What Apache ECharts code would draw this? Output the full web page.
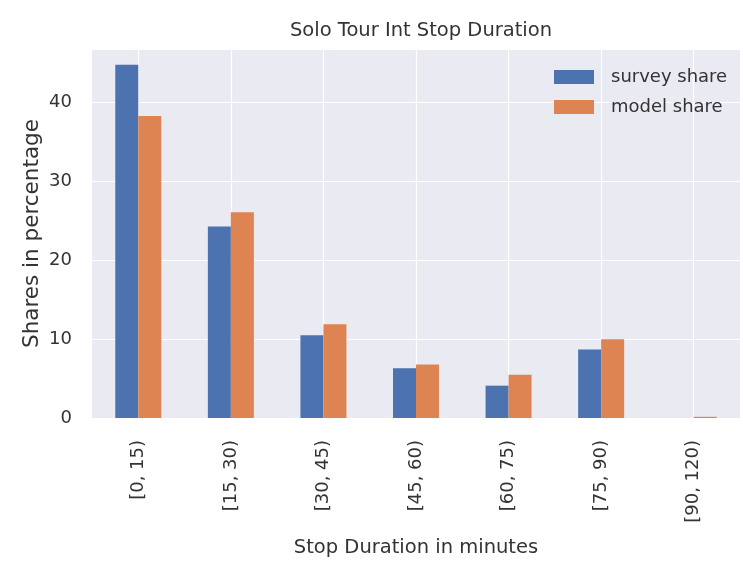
<!DOCTYPE html>
<html>
<head>
<meta charset="utf-8">
<script src="https://cdn.jsdelivr.net/npm/echarts@6/dist/echarts.min.js"></script>
<style>
html,body{margin:0;padding:0;background:#fff;}
#chart{width:743px;height:563px;}
</style>
</head>
<body>
<div id="chart"></div>
<script>
const categories = ['[0, 15)', '[15, 30)', '[30, 45)', '[45, 60)', '[60, 75)', '[75, 90)', '[90, 120)'];
const surveyShare = [44.8, 24.3, 10.5, 6.3, 4.1, 8.7, 0];
const modelShare = [38.3, 26.1, 11.9, 6.8, 5.5, 10.0, 0.15];
const yMax = 46.8;
const yTickStep = 10;

const FONT = '"DejaVu Sans", "Liberation Sans", Arial, sans-serif';
const TXT = '#333333';

const chart = echarts.init(document.getElementById('chart'), null, {renderer: 'canvas'});
chart.setOption({
  animation: false,
  backgroundColor: '#ffffff',
  title: {
    text: 'Solo Tour Int Stop Duration',
    left: 416,
    top: 16,
    textAlign: 'center',
    textStyle: {fontFamily: FONT, fontSize: 19.5, fontWeight: 'normal', color: TXT}
  },
  legend: {
    orient: 'vertical',
    left: 549,
    top: 63,
    itemWidth: 40,
    itemHeight: 14,
    itemGap: 12,
    icon: 'rect',
    textStyle: {fontFamily: FONT, fontSize: 18, color: TXT, padding: [0, 0, 0, 12]},
    data: ['survey share', 'model share']
  },
  grid: {
    left: 92, right: 3, top: 49, bottom: 145,
    show: true, backgroundColor: '#EAEAF2', borderWidth: 0,
    containLabel: false
  },
  xAxis: {
    type: 'category',
    data: categories,
    boundaryGap: true,
    name: 'Stop Duration in minutes',
    nameLocation: 'middle',
    nameGap: 120,
    nameMoveOverlap: false,
    nameTextStyle: {fontFamily: FONT, fontSize: 19.5, color: TXT, verticalAlign: 'top'},
    axisLine: {show: false},
    axisTick: {show: false, alignWithLabel: true},
    axisLabel: {rotate: 90, margin: 22, fontFamily: FONT, fontSize: 18, color: TXT, interval: 0},
    splitLine: {show: true, alignWithLabel: true, lineStyle: {color: '#ffffff', width: 1.2}}
  },
  yAxis: {
    type: 'value',
    min: 0,
    max: yMax,
    interval: yTickStep,
    name: 'Shares in percentage',
    nameLocation: 'middle',
    nameRotate: 90,
    nameGap: 49,
    nameMoveOverlap: false,
    nameTextStyle: {fontFamily: FONT, fontSize: 21.5, color: TXT},
    axisLine: {show: false},
    axisTick: {show: false},
    axisLabel: {
      margin: 20, fontFamily: FONT, fontSize: 18, color: TXT, showMaxLabel: false,
      formatter: v => (v % yTickStep === 0 ? String(v) : '')
    },
    splitLine: {show: true, lineStyle: {color: '#ffffff', width: 1.2}}
  },
  series: [
    {
      name: 'survey share', type: 'bar', data: surveyShare,
      barWidth: 23, barGap: '0%',
      itemStyle: {color: '#4C72B0'}
    },
    {
      name: 'model share', type: 'bar', data: modelShare,
      barWidth: 23, barGap: '0%',
      itemStyle: {color: '#DD8452'}
    }
  ]
});
</script>
</body>
</html>
